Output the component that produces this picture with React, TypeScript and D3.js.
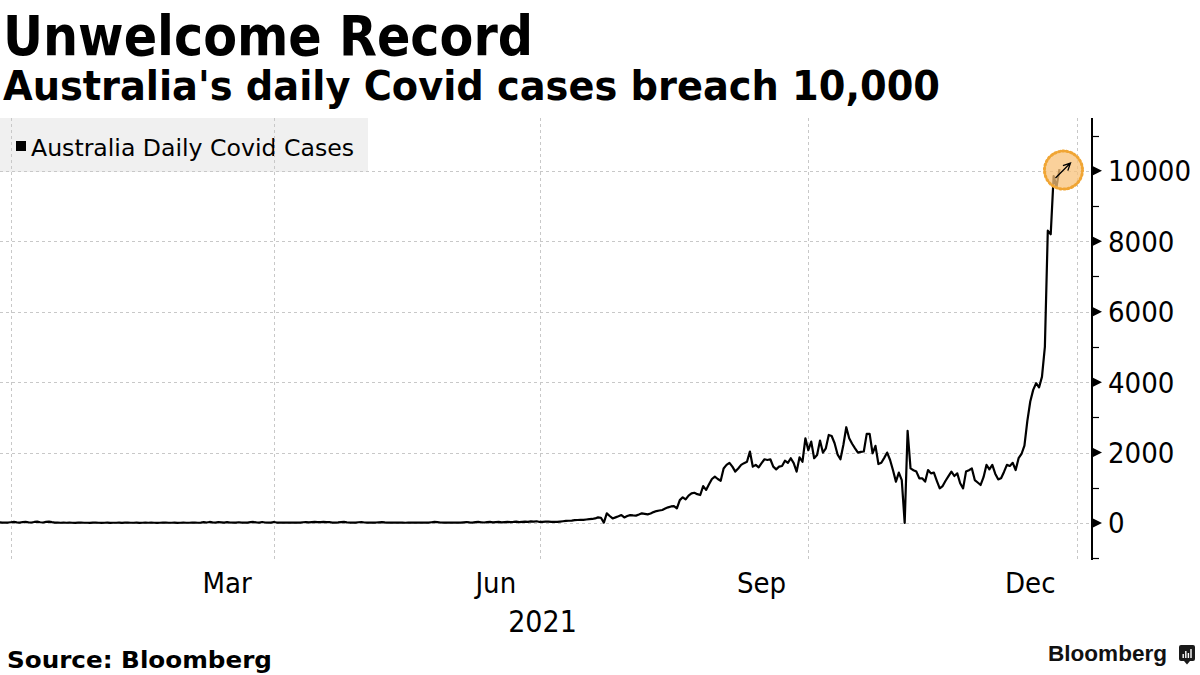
import { useEffect, useRef } from "react"
import * as d3 from "d3"

// Daily cases from Dec 28 2020 to Jun 30 2021
const casesFirstHalf = [
  18, 12, 10, 14, 22, 30, 18, 12, 28, 35,
  20, 14, 30, 38, 22, 15, 32, 40, 25, 12,
  10, 8, 9, 7, 10, 8, 6, 9, 10, 7,
  8, 6, 9, 11, 7, 6, 8, 9, 5, 7,
  8, 10, 6, 9, 12, 8, 7, 9, 6, 8,
  10, 7, 9, 8, 6, 7, 10, 9, 8, 7,
  9, 6, 8, 10, 7, 8, 9, 11, 8, 10,
  25, 14, 30, 18, 12, 28, 20, 10, 26, 15,
  12, 10, 22, 14, 9, 11, 24, 30, 16, 12,
  28, 15, 10, 12, 30, 14, 10, 9, 12, 11,
  10, 13, 9, 12, 22, 28, 20, 25, 30, 26,
  28, 30, 24, 27, 14, 12, 18, 26, 32, 20,
  14, 12, 10, 22, 28, 15, 12, 13, 11, 14,
  20, 26, 18, 12, 10, 11, 9, 10, 12, 8,
  11, 9, 10, 12, 9, 10, 11, 13, 22, 30,
  26, 15, 12, 14, 10, 11, 9, 13, 12, 20,
  28, 16, 12, 24, 30, 22, 14, 26, 32, 18,
  25, 33, 20, 28, 35, 24, 30, 38, 26, 34,
  40, 32, 45, 38, 50,
]

// Daily cases from Jul 1 to Dec 26 2021
const casesSecondHalf = [
  30, 35, 40, 40, 35, 30, 30, 40, 50, 60,
  65, 70, 80, 85, 90, 90, 100, 110, 115, 130,
  160, 150, 10, 275, 200, 130, 160, 190, 225, 160,
  200, 225, 215, 210, 240, 275, 260, 245, 270, 310,
  340, 355, 370, 410, 445, 470, 480, 415, 650, 730,
  670, 780, 840, 860, 820, 795, 1050, 940, 1100, 1250,
  1315, 1250, 1200, 1550, 1650, 1710, 1600, 1460, 1550, 1650,
  1700, 1740, 2030, 1600, 1650, 1580, 1700, 1810, 1790, 1810,
  1600, 1525, 1600, 1620, 1770, 1710, 1840, 1700, 1460, 1865,
  1740, 2405, 2070, 2310, 1840, 1930, 2340, 2000, 2120, 2500,
  2470, 2265, 1950, 1810, 2215, 2720, 2405, 2250, 2120, 2000,
  2020, 2030, 2530, 2530, 1980, 2190, 1675, 1710, 1850, 2000,
  1790, 1500, 1175, 1430, 1220, 0, 2620, 1550, 1500, 1460,
  1270, 1270, 1175, 1505, 1410, 1430, 1200, 985, 1050, 1200,
  1330, 1460, 1335, 1410, 1130, 985, 1460, 1500, 1550, 1220,
  1150, 1080, 1300, 1650, 1525, 1650, 1400, 1240, 1270, 1450,
  1650, 1620, 1710, 1505, 1840, 1960, 2200, 2900, 3450, 3780,
  3970, 3850, 4150, 5000, 8300, 8200, 9850, 9550, 10050,
]

const seriesStart = new Date(2020, 11, 28)
const seriesName = "Australia Daily Covid Cases"

const yTicks = [0, 2000, 4000, 6000, 8000, 10000]
const yMinorTicks = [-1000, 1000, 3000, 5000, 7000, 9000, 11000]

const gridDates = [
  new Date(2021, 0, 1),
  new Date(2021, 3, 1),
  new Date(2021, 6, 1),
  new Date(2021, 9, 1),
  new Date(2022, 0, 1),
]
const monthLabels = ["Mar", "Jun", "Sep", "Dec"]
const monthLabelDates = [
  new Date(2021, 2, 16),
  new Date(2021, 5, 16),
  new Date(2021, 8, 15),
  new Date(2021, 11, 16),
]
const yearLabel = "2021"
const yearLabelDate = new Date(2021, 6, 2)

const FONT = "'DejaVu Sans Condensed', 'DejaVu Sans', sans-serif"

type Point = { date: Date; value: number }

export default function App() {
  const svgRef = useRef<SVGSVGElement>(null)

  useEffect(() => {
    if (!svgRef.current) return
    const svg = d3.select(svgRef.current)
    svg.selectAll("*").remove()

    const width = 1200
    const height = 675
    const axisX = 1092
    const plotTop = 118
    const plotBottom = 560

    const data: Point[] = [...casesFirstHalf, ...casesSecondHalf].map((value, i) => ({
      date: d3.timeDay.offset(seriesStart, i),
      value,
    }))

    const x = d3.scaleTime()
      .domain([new Date(2021, 0, 1), new Date(2022, 0, 1)])
      .range([11, 1077])

    const y = d3.scaleLinear()
      .domain([-1050, 11500])
      .range([plotBottom, plotTop])

    const crisp = (v: number) => Math.round(v) + 0.5

    svg.append("rect")
      .attr("width", width)
      .attr("height", height)
      .attr("fill", "#ffffff")

    // Legend box sits under the grid
    svg.append("rect")
      .attr("x", 0)
      .attr("y", plotTop)
      .attr("width", 368)
      .attr("height", 54)
      .attr("fill", "#f0f0f0")

    svg.append("rect")
      .attr("x", 16)
      .attr("y", 141)
      .attr("width", 10)
      .attr("height", 10)
      .attr("fill", "#000")

    svg.append("text")
      .attr("x", 31)
      .attr("y", 156)
      .attr("font-family", FONT)
      .attr("font-stretch", "condensed")
      .attr("font-size", 23)
      .attr("textLength", 323)
      .attr("lengthAdjust", "spacingAndGlyphs")
      .attr("fill", "#000")
      .text(seriesName)

    // Grid
    const grid = svg.append("g")
      .attr("stroke", "#c8c8c8")
      .attr("stroke-width", 1)
      .attr("stroke-dasharray", "3,3")

    grid.selectAll(".hgrid")
      .data(yTicks)
      .join("line")
      .attr("class", "hgrid")
      .attr("x1", 0)
      .attr("x2", axisX)
      .attr("y1", d => crisp(y(d)))
      .attr("y2", d => crisp(y(d)))

    grid.selectAll(".vgrid")
      .data(gridDates)
      .join("line")
      .attr("class", "vgrid")
      .attr("x1", d => crisp(x(d)))
      .attr("x2", d => crisp(x(d)))
      .attr("y1", plotTop)
      .attr("y2", plotBottom)

    // Series line
    const line = d3.line<Point>()
      .x(d => x(d.date))
      .y(d => y(d.value))

    svg.append("path")
      .datum(data)
      .attr("fill", "none")
      .attr("stroke", "#000")
      .attr("stroke-width", 2.2)
      .attr("stroke-linejoin", "round")
      .attr("d", line)

    // Highlight on the latest reading
    const last = data[data.length - 1]
    const cx = x(last.date) + 4
    const cy = y(last.value) + 1
    const note = svg.append("g")
    note.append("circle")
      .attr("cx", cx)
      .attr("cy", cy)
      .attr("r", 19)
      .attr("fill", "#f8c27a")
      .attr("fill-opacity", 0.75)
      .attr("stroke", "#f0a534")
      .attr("stroke-width", 3)
      .attr("stroke-dasharray", "1.5,2.5")
      .attr("stroke-linecap", "round")

    const ax0 = cx - 8
    const ay0 = cy + 8
    const ax1 = cx + 7
    const ay1 = cy - 7
    const ang = Math.atan2(ay1 - ay0, ax1 - ax0)
    const head = 8
    note.append("path")
      .attr("d", `M${ax0},${ay0}L${ax1},${ay1}` +
        `M${ax1 - head * Math.cos(ang - 0.45)},${ay1 - head * Math.sin(ang - 0.45)}` +
        `L${ax1},${ay1}` +
        `L${ax1 - head * Math.cos(ang + 0.45)},${ay1 - head * Math.sin(ang + 0.45)}`)
      .attr("fill", "none")
      .attr("stroke", "#000")
      .attr("stroke-width", 1.3)

    // Right axis
    svg.append("line")
      .attr("x1", axisX)
      .attr("x2", axisX)
      .attr("y1", plotTop)
      .attr("y2", plotBottom)
      .attr("stroke", "#000")
      .attr("stroke-width", 2)

    svg.selectAll(".minor")
      .data(yMinorTicks)
      .join("line")
      .attr("class", "minor")
      .attr("x1", axisX)
      .attr("x2", axisX + 7)
      .attr("y1", d => crisp(y(d)))
      .attr("y2", d => crisp(y(d)))
      .attr("stroke", "#000")
      .attr("stroke-width", 1.2)

    svg.selectAll(".major")
      .data(yTicks)
      .join("path")
      .attr("class", "major")
      .attr("d", d => {
        const ty = y(d)
        return `M${axisX},${ty - 5}L${axisX + 10},${ty}L${axisX},${ty + 5}Z`
      })
      .attr("fill", "#000")

    svg.selectAll(".ylabel")
      .data(yTicks)
      .join("text")
      .attr("class", "ylabel")
      .attr("x", 1108)
      .attr("y", d => y(d))
      .attr("dy", "0.36em")
      .attr("font-family", FONT)
      .attr("font-stretch", "condensed")
      .attr("font-size", 29)
      .attr("fill", "#000")
      .text(d => String(d))

    // Bottom axis labels
    svg.selectAll(".xlabel")
      .data(monthLabels)
      .join("text")
      .attr("class", "xlabel")
      .attr("x", (_, i) => x(monthLabelDates[i]))
      .attr("y", 593)
      .attr("text-anchor", "middle")
      .attr("font-family", FONT)
      .attr("font-stretch", "condensed")
      .attr("font-size", 29)
      .attr("fill", "#000")
      .text(d => d)

    svg.append("text")
      .attr("x", x(yearLabelDate))
      .attr("y", 632)
      .attr("text-anchor", "middle")
      .attr("font-family", FONT)
      .attr("font-stretch", "condensed")
      .attr("font-size", 30)
      .attr("fill", "#000")
      .text(yearLabel)

    // Headings
    svg.append("text")
      .attr("x", 3)
      .attr("y", 55)
      .attr("font-family", FONT)
      .attr("font-weight", "bold")
      .attr("font-size", 56)
      .attr("textLength", 530)
      .attr("lengthAdjust", "spacingAndGlyphs")
      .attr("fill", "#000")
      .text("Unwelcome Record")

    svg.append("text")
      .attr("x", 3)
      .attr("y", 100)
      .attr("font-family", FONT)
      .attr("font-weight", "bold")
      .attr("font-size", 40)
      .attr("textLength", 937)
      .attr("lengthAdjust", "spacingAndGlyphs")
      .attr("fill", "#000")
      .text("Australia's daily Covid cases breach 10,000")

    svg.append("text")
      .attr("x", 7)
      .attr("y", 668)
      .attr("font-family", FONT)
      .attr("font-weight", "bold")
      .attr("font-size", 23)
      .attr("textLength", 265)
      .attr("lengthAdjust", "spacingAndGlyphs")
      .attr("fill", "#000")
      .text("Source: Bloomberg")

    // Brand mark
    svg.append("text")
      .attr("x", 1048)
      .attr("y", 661)
      .attr("font-family", "'Liberation Sans', Arial, sans-serif")
      .attr("font-weight", "bold")
      .attr("font-size", 22)
      .attr("textLength", 119)
      .attr("lengthAdjust", "spacingAndGlyphs")
      .attr("fill", "#111")
      .text("Bloomberg")

    const icon = svg.append("g").attr("transform", "translate(1179,645)")
    icon.append("rect")
      .attr("width", 16)
      .attr("height", 16)
      .attr("rx", 2)
      .attr("fill", "#1a1a1a")
    icon.append("path")
      .attr("d", "M5,16L8,19.5L11,16Z")
      .attr("fill", "#1a1a1a")
    const bars = [4, 7, 5, 9]
    icon.selectAll(".bar")
      .data(bars)
      .join("rect")
      .attr("class", "bar")
      .attr("x", (_, i) => 3.5 + i * 2.6)
      .attr("y", d => 13 - d)
      .attr("width", 1.4)
      .attr("height", d => d)
      .attr("fill", "#fff")
  }, [])

  return (
    <svg
      ref={svgRef}
      width={1200}
      height={675}
      style={{ position: "absolute", left: 0, top: 0, display: "block" }}
    />
  )
}
